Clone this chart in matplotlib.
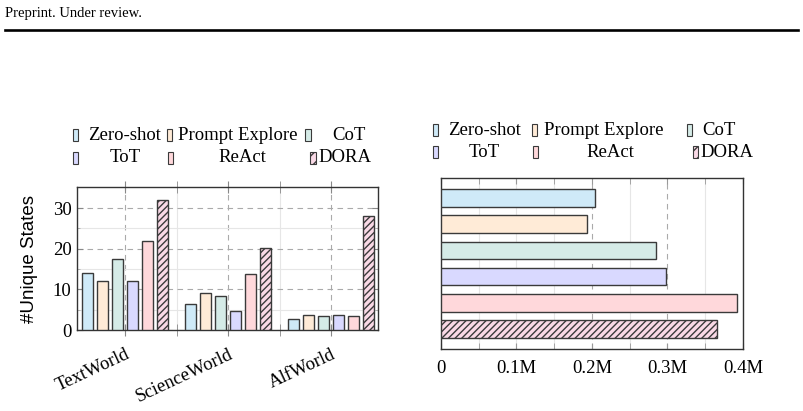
import numpy as np
import matplotlib
matplotlib.use('Agg')
import matplotlib.pyplot as plt
from matplotlib.patches import Rectangle
from matplotlib.lines import Line2D
from matplotlib.transforms import ScaledTranslation

# data
methods = ['Zero-shot', 'Prompt Explore', 'CoT', 'ToT', 'ReAct', 'DORA']
envs = ['TextWorld', 'ScienceWorld', 'AlfWorld']

zero_shot = [14.0, 6.5, 2.7]
prompt_explore = [12.1, 9.0, 3.7]
cot = [17.5, 8.3, 3.4]
tot = [12.1, 4.6, 3.7]
react = [22.0, 13.8, 3.4]
dora = [32.0, 20.2, 28.0]
unique_states = [zero_shot, prompt_explore, cot, tot, react, dora]

# right panel, one value per method
right_values = [203700, 193500, 284400, 297600, 392000, 365500]
right_ticks = [0, 100000, 200000, 300000, 400000]
right_ticklabels = ['0', '0.1M', '0.2M', '0.3M', '0.4M']

colors = ['#cfeaf8', '#ffebd7', '#d5ebe7', '#d9d9ff', '#ffd8db', '#f9d9e6']
hatches = [None, None, None, None, None, '/////']
edge = '#3a3a3a'

serif = 'Liberation Serif'
fs = 13.5

W, H = 804, 411
fig = plt.figure(figsize=(W / 100, H / 100), dpi=100)


def fx(x):
    return x / W


def fy(y):
    return 1 - y / H


# header of the page
fig.text(fx(5), fy(13), 'Preprint. Under review.', fontsize=10.5, family=serif,
         va='center', ha='left')
fig.add_artist(Line2D([fx(5), fx(798)], [fy(30), fy(30)], color='black',
                      lw=1.9, transform=fig.transFigure))

# ---- left: unique states per environment
ax1 = fig.add_axes([fx(77), fy(330), (378 - 77) / W, (330 - 187) / H])
x = np.arange(len(envs))
step = 0.1456
width = 0.107
for i, vals in enumerate(unique_states):
    ax1.bar(x + (i - 2.5) * step, vals, width, color=colors[i], edgecolor=edge,
            lw=1.0, hatch=hatches[i], zorder=3)

ax1.set_xlim(-0.466, 2.456)
ax1.set_ylim(0, 35.2)
ax1.set_yticks([0, 10, 20, 30])
ax1.set_yticks([5, 15, 25], minor=True)
ax1.set_xticks(x)
ax1.set_xticks([0.5, 1.5], minor=True)
ax1.set_yticklabels(['0', '10', '20', '30'], family=serif, fontsize=fs)
ax1.set_xticklabels(envs, family=serif, fontsize=fs, rotation=25,
                    ha='right', va='top', rotation_mode='anchor')
shift = ScaledTranslation(3 / 100, 0, fig.dpi_scale_trans)
for lab in ax1.get_xticklabels():
    lab.set_transform(lab.get_transform() + shift)
ax1.grid(which='major', ls=(0, (5, 4)), color='#aaaaaa', lw=0.8)
ax1.grid(which='minor', ls='-', color='#e6e6e6', lw=0.8)
ax1.set_axisbelow(True)
ax1.tick_params(axis='x', which='both', direction='inout', length=9,
                color='#888888', top=True, bottom=True, pad=7)
ax1.tick_params(axis='y', which='major', direction='in', length=4,
                color='#888888', left=True, right=True, pad=4)
ax1.tick_params(axis='y', which='minor', direction='in', length=2.5,
                color='#aaaaaa', left=True, right=True)
for s in ax1.spines.values():
    s.set_color('#333333')
    s.set_linewidth(1.0)
fig.text(fx(30), fy(259), '#Unique States', rotation=90, ha='center',
         va='center', family='Liberation Sans', fontsize=13.5)

# ---- right: horizontal bars
ax2 = fig.add_axes([fx(441), fy(349), (743 - 441) / W, (349 - 178) / H])
pos = np.arange(len(methods))
ax2.barh(pos, right_values, height=0.67, color=colors, edgecolor=edge, lw=1.0,
         zorder=3)
ax2.patches[-1].set_hatch('/////')
ax2.set_ylim(5.76, -0.76)
ax2.set_xlim(0, 400000)
ax2.set_yticks([])
ax2.set_xticks(right_ticks)
ax2.set_xticklabels(right_ticklabels, family=serif, fontsize=fs)
ax2.set_xticks(np.arange(50000, 400000, 100000), minor=True)
ax2.grid(which='both', axis='x', ls='-', color='#e6e6e6', lw=0.8)
ax2.set_axisbelow(True)
for gl, t in zip(ax2.get_xgridlines(), right_ticks):
    if t in (200000, 300000):
        gl.set_linestyle((0, (5, 4)))
        gl.set_color('#aaaaaa')
ax2.tick_params(axis='x', which='major', direction='in', length=4,
                color='#999999', top=True, bottom=True, pad=8)
ax2.tick_params(axis='x', which='minor', direction='in', length=4,
                color='#999999', top=True, bottom=True)
for s in ax2.spines.values():
    s.set_color('#333333')
    s.set_linewidth(1.0)


# ---- legends drawn above each panel
def legend(entries, rows):
    for i, (bx, cx, ha) in enumerate(entries):
        y = rows[i // 3]
        fig.add_artist(Rectangle((fx(bx), fy(y + 6)), 5.5 / W, 12 / H,
                                 transform=fig.transFigure, facecolor=colors[i],
                                 edgecolor=edge, lw=0.8, hatch=hatches[i] and '///'))
        fig.text(fx(cx), fy(y), methods[i], family=serif, fontsize=fs,
                 ha=ha, va='center')


legend([(73, 125, 'center'), (167, 237.5, 'center'), (305, 349, 'center'),
        (73, 125, 'center'), (168, 242, 'center'), (310, 318, 'left')],
       [135, 158])
legend([(433, 485, 'center'), (532, 604, 'center'), (687, 719, 'center'),
        (433, 484, 'center'), (533, 610, 'center'), (693, 700, 'left')],
       [130, 152.5])

fig.savefig('out.png', dpi=100)
